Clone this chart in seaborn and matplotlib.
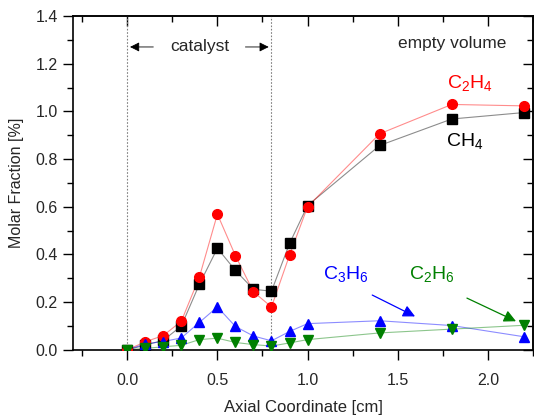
import numpy as np
import pandas as pd
import matplotlib
matplotlib.use("Agg")
import matplotlib.pyplot as plt
import seaborn as sns
from matplotlib.ticker import MultipleLocator, FormatStrFormatter

sns.set_theme(style="ticks")
plt.rcParams['font.family'] = ['Liberation Sans', 'DejaVu Sans']
plt.rcParams['mathtext.fontset'] = 'custom'
plt.rcParams['mathtext.rm'] = 'Liberation Sans'
plt.rcParams['mathtext.it'] = 'Liberation Sans:italic'
plt.rcParams['mathtext.bf'] = 'Liberation Sans:bold'

x = [0.0, 0.1, 0.2, 0.3, 0.4, 0.5, 0.6, 0.7, 0.8, 0.9, 1.0, 1.4, 1.8, 2.2]
ch4 = [0.0, 0.02, 0.04, 0.10, 0.275, 0.426, 0.333, 0.254, 0.246, 0.446, 0.605, 0.857, 0.968, 0.995]
c2h4 = [0.0, 0.034, 0.06, 0.12, 0.305, 0.569, 0.395, 0.243, 0.18, 0.397, 0.60, 0.906, 1.029, 1.023]
c3h6 = [0.0, 0.025, 0.035, 0.05, 0.115, 0.18, 0.098, 0.058, 0.038, 0.077, 0.11, 0.122, 0.102, 0.055]
c2h6 = [0.0, 0.006, 0.013, 0.019, 0.043, 0.049, 0.031, 0.022, 0.016, 0.029, 0.043, 0.071, 0.087, 0.103]

series = [
    ("CH4", ch4, "black", "s", 6.5),
    ("C2H4", c2h4, "red", "o", 7),
    ("C3H6", c3h6, "blue", "^", 7.5),
    ("C2H6", c2h6, "green", "v", 7.5),
]

fig = plt.figure(figsize=(5.34, 4.2), dpi=100)
ax = fig.add_axes([0.137, 0.167, 0.861, 0.795])

for name, vals, col, mk, ms in series:
    df = pd.DataFrame({"x": x, "y": vals})
    sns.lineplot(data=df, x="x", y="y", ax=ax, color=col, lw=0.8, alpha=0.45,
                 sort=False, zorder=2)
    ax.plot(x, vals, linestyle="none", marker=mk, color=col, ms=ms, zorder=3)

# vertical catalyst boundaries
for xv in (0.0, 0.8):
    ax.axvline(xv, color="gray", lw=0.8, ls=(0, (1.5, 1.5)), zorder=1)

ax.text(0.4, 1.27, "catalyst", ha="center", va="center", fontsize=12.5)
ax.annotate("", xy=(0.0, 1.27), xytext=(0.16, 1.27),
            arrowprops=dict(arrowstyle="-|>", color="black", lw=0.6, mutation_scale=14))
ax.annotate("", xy=(0.8, 1.27), xytext=(0.64, 1.27),
            arrowprops=dict(arrowstyle="-|>", color="black", lw=0.6, mutation_scale=14))
ax.text(1.80, 1.285, "empty volume", ha="center", va="center", fontsize=12.5)

ax.text(1.90, 1.12, r"C$_2$H$_4$", color="red", ha="center", va="center", fontsize=14)
ax.text(1.87, 0.875, r"CH$_4$", color="black", ha="center", va="center", fontsize=14)
ax.text(1.21, 0.32, r"C$_3$H$_6$", color="blue", ha="center", va="center", fontsize=14)
ax.text(1.69, 0.32, r"C$_2$H$_6$", color="green", ha="center", va="center", fontsize=14)
ax.annotate("", xy=(1.61, 0.135), xytext=(1.345, 0.235),
            arrowprops=dict(arrowstyle="-|>", color="blue", lw=0.9, mutation_scale=18))
ax.annotate("", xy=(2.17, 0.115), xytext=(1.87, 0.222),
            arrowprops=dict(arrowstyle="-|>", color="green", lw=0.9, mutation_scale=18))

ax.set_xlabel("Axial Coordinate [cm]", fontsize=12, labelpad=8)
ax.set_ylabel("Molar Fraction [%]", fontsize=11.5, labelpad=8)

ax.xaxis.set_major_locator(MultipleLocator(0.5))
ax.xaxis.set_minor_locator(MultipleLocator(0.25))
ax.yaxis.set_major_locator(MultipleLocator(0.2))
ax.yaxis.set_minor_locator(MultipleLocator(0.1))
ax.xaxis.set_major_formatter(FormatStrFormatter("%.1f"))
ax.yaxis.set_major_formatter(FormatStrFormatter("%.1f"))

ax.set_xlim(-0.3, 2.25)
ax.set_ylim(0.0, 1.4)

for sp in ax.spines.values():
    sp.set_visible(True)
    sp.set_linewidth(1.2)
    sp.set_color("black")

ax.tick_params(axis="both", which="both", labelsize=11.5, color="black", width=1.0)
ax.tick_params(axis="both", which="major", length=7)
ax.tick_params(axis="both", which="minor", length=4)
ax.tick_params(axis="x", which="both", direction="out", bottom=True, top=False, pad=10)
ax.tick_params(axis="y", which="both", direction="out", left=True, right=False, pad=4)

# mirrored inward ticks on top and right
top = ax.secondary_xaxis("top")
top.xaxis.set_major_locator(MultipleLocator(0.5))
top.xaxis.set_minor_locator(MultipleLocator(0.25))
top.tick_params(which="both", direction="in", labeltop=False, width=1.0, color="black")
top.tick_params(which="major", length=7)
top.tick_params(which="minor", length=4)
right = ax.secondary_yaxis("right")
right.yaxis.set_major_locator(MultipleLocator(0.2))
right.yaxis.set_minor_locator(MultipleLocator(0.1))
right.tick_params(which="both", direction="in", labelright=False, width=1.0, color="black")
right.tick_params(which="major", length=7)
right.tick_params(which="minor", length=4)

fig.savefig("out.png", dpi=100)
